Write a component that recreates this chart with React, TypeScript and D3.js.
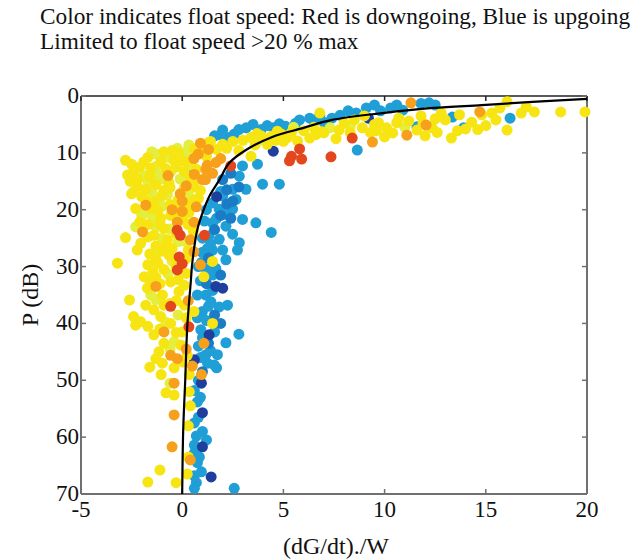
import React from "react";
import * as d3 from "d3";

type Pt = [number, number]; // [x = (dG/dt)./W, P (dB)]

const xTicks = [-5, 0, 5, 10, 15, 20];
const yTicks = [0, 10, 20, 30, 40, 50, 60, 70];

const titleLines = [
  "Color indicates float speed: Red is downgoing, Blue is upgoing",
  "Limited to float speed >20 % max",
];

const fitCurve: Pt[] = [
  [20, 0.5], [17.3, 1.05], [14.8, 1.6], [12.4, 2.1], [9.9, 3.0], [7.4, 4.2], [6.0, 5.6],
  [4.45, 7.2], [3.15, 9.5], [2.32, 11.8], [1.83, 14.8], [1.33, 17.7], [1.0, 20.6],
  [0.74, 23.6], [0.6, 26.5], [0.48, 30], [0.43, 32.4], [0.25, 40.6], [0.15, 50],
  [0.05, 58.7], [0, 70],
];

const lightBluePts: Pt[] = [
  [3.16, 5.6], [2.57, 6.7], [2.32, 7.3], [3.9, 5.9], [4.5, 5.6], [5.1, 5.3], [6.3, 3.9], [6.5, 4.4],
  [7.4, 3.9], [7.0, 4.6], [8.6, 3.0], [9.1, 2.1], [10.3, 2.1], [10.9, 2.5], [12.2, 1.2], [12.5, 1.6],
  [11.6, 5.4], [8.65, 9.5], [13.9, 5.6], [13.35, 3.7], [16.2, 3.9], [1.9, 6.8], [5.6, 4.8], [9.8, 2.6],
  [1.6, 7.0], [2.0, 6.0], [2.8, 5.9], [3.5, 5.0], [4.2, 5.2], [4.8, 4.9], [5.8, 4.2], [6.8, 3.4],
  [7.8, 3.4], [8.2, 2.6], [9.5, 1.6], [10.6, 1.6], [11.8, 1.3],
  [3.97, 15.5], [4.8, 15.5], [3.72, 12.0], [2.98, 12.3], [2.82, 14.1], [2.49, 16.4], [3.15, 16.4],
  [2.0, 17.6], [2.66, 18.2], [1.83, 19.9], [2.49, 19.9], [2.98, 21.7], [1.5, 22.3], [2.16, 22.9],
  [3.64, 22.3], [4.4, 24.0], [1.33, 24.6], [1.83, 25.2], [2.49, 24.3], [2.82, 25.8], [2.73, 27.1],
  [2.16, 28.8], [2.0, 27.1], [1.5, 27.1], [1.66, 30.3], [2.24, 36.8], [1.83, 37.1], [1.42, 36.2],
  [1.17, 35.0], [2.8, 41.9], [2.16, 43.4], [1.74, 45.5], [1.58, 47.3], [1.0, 37.9], [0.92, 41.1],
  [1.17, 45.5], [1.25, 47.0], [1.0, 27.5], [1.2, 30.5], [0.9, 32.5], [1.5, 34.2], [1.2, 39.5],
  [1.6, 41.5], [0.8, 44.0], [1.4, 26.0], [1.0, 25.0], [2.1, 20.8], [1.7, 21.5],
  [1.9, 16.8], [1.5, 18.8], [1.2, 20.0], [1.1, 22.0], [1.25, 26.8], [0.95, 29.3],
  [0.8, 30.0], [1.5, 31.5], [0.75, 35.0], [1.3, 37.0], [0.75, 39.0], [1.0, 42.5], [1.4, 44.8],
  [0.9, 46.0],
  [1.7, 47.8], [0.75, 53.8], [0.6, 57.5], [1.2, 60.5], [0.6, 61.4], [0.6, 62.8], [0.75, 64.5],
  [0.95, 66.1], [0.7, 68.0], [0.6, 69.0], [2.57, 69.0], [0.8, 50.0], [0.6, 51.8], [0.9, 53.0],
  [0.8, 56.5], [1.0, 59.0], [0.7, 59.8], [0.85, 63.5], [0.6, 66.8],
];

const midBluePts: Pt[] = [
  [2.0, 14.7], [2.4, 13.6], [2.8, 16.0], [2.2, 16.5], [2.5, 18.5], [2.2, 19.0], [1.9, 21.0],
  [2.4, 21.5], [1.6, 23.5], [1.3, 28.5], [1.9, 31.5], [1.2, 33.0], [1.6, 38.5], [1.9, 40.0],
  [1.3, 43.5], [1.0, 48.5],
];

const darkBluePts: Pt[] = [
  [4.5, 9.7], [9.2, 3.9], [1.66, 33.5], [2.0, 33.8], [1.33, 42.0], [0.95, 50.5], [1.0, 55.7],
  [1.0, 61.7], [1.43, 67.0], [0.45, 12.5], [1.7, 17.7], [0.6, 46.4],
];

const paleYellowPts: Pt[] = [
  [-0.24, 9.2], [0.33, 8.6], [-1.2, 13.9], [-0.57, 13.3], [-1.7, 15.0], [-0.73, 17.4], [-1.6, 20.7],
  [-1.55, 35.0], [-0.4, 43.2], [-2.4, 16.8], [-1.9, 14.0], [-0.1, 14.6], [-1.1, 18.0], [-2.0, 21.0],
  [-1.3, 23.0], [0.1, 25.5], [-0.9, 10.8], [-1.5, 9.8], [0.9, 10.0], [-2.3, 23.0], [-0.2, 38.5],
  [-0.6, 50.5], [5.5, 5.5], [8.3, 5.3], [3.7, 8.0], [-1.25, 27.5],
  [-1.3, 10.2], [0.2, 9.8], [-0.6, 10.9], [-1.3, 12.4], [0.4, 12.2], [-0.9, 14.6], [-1.5, 16.9],
  [0.3, 17.3], [-1.0, 19.4], [-2.0, 20.3], [-1.4, 21.7], [-0.6, 23.4], [-1.0, 25.0], [-0.2, 25.6],
  [-0.5, 29.0], [-0.7, 31.3], [-1.3, 35.8], [-0.8, 39.8], [-0.6, 44.5], [7.3, 5.6], [11.0, 5.5],
];

const yellowPts: Pt[] = [
  [1.3, 8.2], [1.7, 9.4], [2.0, 8.5], [2.5, 8.0], [3.0, 7.8], [3.4, 7.3], [3.9, 7.0], [4.4, 7.1],
  [4.9, 6.7], [5.4, 6.4], [6.0, 6.1], [6.9, 6.3], [7.75, 6.0], [8.9, 5.6], [10.1, 5.6], [10.6, 4.7],
  [11.6, 6.0], [12.35, 5.6], [13.3, 7.4], [13.0, 4.2], [9.7, 4.7], [10.7, 3.9], [6.8, 3.0], [7.0, 6.5],
  [8.0, 4.8], [9.3, 6.4], [5.0, 8.0], [6.3, 7.4], [4.2, 8.5], [3.4, 10.6], [12.8, 3.0], [11.8, 3.5],
  [13.7, 3.3], [14.3, 4.6], [14.8, 3.3], [15.5, 4.2], [15.7, 2.1], [16.05, 6.0], [16.05, 1.0],
  [16.75, 3.0], [17.0, 1.9], [17.4, 2.8], [18.7, 2.8], [19.9, 2.8], [8.5, 4.2], [11.2, 4.4],
  [12.0, 7.0], [10.0, 7.2], [7.6, 7.5], [5.7, 7.9], [2.8, 9.6], [14.0, 5.8], [15.0, 5.2], [9.0, 3.5],
  [2.2, 9.2], [3.6, 8.6], [4.6, 7.8], [5.2, 7.3], [6.6, 6.8], [8.3, 6.4], [9.6, 6.1], [10.4, 6.5],
  [11.9, 4.8], [12.6, 6.4], [13.6, 6.1], [14.6, 5.9], [15.3, 3.0], [12.5, 4.0], [9.5, 5.0], [6.5, 5.5],
  [4.7, 6.2], [3.7, 6.6],
  [-2.8, 11.3], [-2.7, 13.9], [-2.57, 15.0], [-1.55, 12.7], [-1.06, 11.6], [-0.4, 11.3], [0.25, 11.6],
  [0.1, 13.3], [-1.3, 15.6], [-0.65, 15.3], [0.5, 15.3], [-2.0, 17.7], [-1.4, 18.6], [-0.24, 19.2],
  [0.58, 18.3], [-1.06, 21.5], [-0.57, 21.0], [0.33, 20.5], [-2.05, 25.9], [-2.8, 24.9], [-1.4, 24.5],
  [-0.73, 25.3], [-0.5, 26.8], [1.4, 8.0], [-0.9, 9.8], [-0.2, 10.0], [0.6, 9.3], [-1.7, 10.8],
  [-2.1, 12.5], [-0.8, 12.8], [0.7, 12.9], [-2.2, 14.6], [-1.8, 16.4], [-0.9, 16.6], [0.1, 16.2],
  [0.9, 16.6], [-2.3, 19.8], [-1.2, 20.1], [-0.6, 19.1], [0.05, 21.8], [-1.7, 22.6], [-0.9, 23.3],
  [-0.3, 24.2], [0.55, 23.8], [-1.0, 27.3], [-1.6, 27.8], [0.2, 28.6],
  [-0.5, 9.6], [1.0, 9.0], [-1.9, 11.6], [0.0, 11.4], [1.2, 10.6], [-2.4, 13.2], [-0.3, 12.5],
  [-1.6, 14.2], [0.4, 14.3], [-2.5, 12.0], [-2.2, 16.0], [-0.6, 16.1], [-2.5, 17.2], [-1.0, 17.5],
  [0.6, 16.0], [-1.8, 18.4], [-0.2, 18.3], [0.3, 19.1], [-1.5, 19.8], [0.8, 18.0], [-2.1, 22.2],
  [-0.3, 21.4], [-1.1, 22.5], [0.3, 22.6], [-1.7, 24.8], [-1.3, 26.4], [0.3, 27.1], [-0.8, 26.0],
  [-1.3, 28.8], [-0.3, 28.7], [-1.2, 29.4], [-1.6, 32.6], [-0.2, 32.3], [-1.3, 31.9], [0.2, 31.2],
  [-0.3, 36.0], [-1.8, 36.8], [-0.9, 36.8], [-1.7, 40.5], [-0.3, 41.6], [-1.1, 41.0], [0.05, 46.8],
  [-1.3, 46.2],
  [-3.2, 29.4], [-2.22, 27.1], [-1.7, 29.7], [-1.45, 30.9], [-1.88, 31.8], [-2.6, 35.9], [-1.72, 33.8],
  [-2.4, 38.8], [-2.06, 39.7], [-2.3, 40.3], [-1.4, 37.6], [-1.06, 38.8], [-1.4, 42.0], [-1.15, 45.0],
  [-0.98, 47.0], [-0.65, 28.0], [-0.57, 32.7], [-0.16, 34.4], [-0.98, 35.0], [-0.57, 40.0],
  [-0.07, 43.8], [1.07, 31.8], [0.58, 37.9], [1.5, 29.1], [1.5, 40.0], [0.1, 33.3], [0.1, 36.8],
  [0.0, 41.5], [0.25, 45.6], [-0.9, 30.5], [-0.3, 30.0], [-1.1, 33.0], [-0.6, 36.5], [0.2, 39.0],
  [-0.9, 43.5], [-0.4, 47.8],
  [-1.6, 47.7], [-1.04, 49.0], [-0.8, 52.2], [-1.1, 65.8], [-1.7, 67.9], [-0.3, 68.0], [0.35, 49.0],
  [0.35, 52.0], [0.4, 54.5], [0.3, 58.0], [0.3, 63.5], [0.25, 66.5], [-0.4, 52.6],
];

const orangePts: Pt[] = [
  [-0.1, 17.2], [1.15, 14.7], [1.24, 12.2], [0.58, 11.0], [-0.24, 22.2], [0.58, 22.2], [-1.8, 19.2],
  [-1.96, 23.9], [0.4, 25.3], [-1.3, 33.5], [-0.9, 41.5], [-0.57, 45.6], [-0.24, 46.2], [0.58, 27.4],
  [0.9, 29.7], [1.07, 43.5], [-0.4, 50.5], [-0.4, 56.1], [-0.5, 61.7], [0.95, 49.0], [9.4, 8.1],
  [11.1, 6.9], [12.05, 5.1], [14.7, 2.8], [11.3, 1.2], [1.17, 12.9], [1.66, 11.7], [1.0, 14.7],
  [0.8, 10.2], [0.9, 8.3], [0.0, 20.3], [0.4, 64.0], [0.3, 36.0], [0.2, 44.5], [0.5, 47.5],
  [0.7, 19.5], [0.2, 15.8], [1.5, 13.6], [0.6, 13.8], [1.3, 9.4], [0.0, 18.5], [-0.5, 20.0],
  [1.9, 11.0], [-0.7, 14.0],
];

const redPts: Pt[] = [
  [5.3, 11.4], [5.8, 9.3], [5.4, 10.6], [5.9, 11.1], [7.35, 10.7], [8.4, 7.4], [-0.1, 24.5],
  [1.1, 24.5], [-0.57, 37.0], [-0.15, 28.3], [-0.24, 30.6], [0.33, 40.6], [-0.25, 23.6], [0.0, 29.5],
  [2.4, 12.3],
];

const groups: { pts: Pt[]; color: string }[] = [
  { pts: lightBluePts, color: "#1f9fd6" },
  { pts: midBluePts, color: "#1a7cc6" },
  { pts: darkBluePts, color: "#1e3f9e" },
  { pts: paleYellowPts, color: "#e3ee3e" },
  { pts: yellowPts, color: "#f6e512" },
  { pts: orangePts, color: "#f6a01c" },
  { pts: redPts, color: "#e4461e" },
];

const W = 639;
const H = 560;
const L = 81, R = 587, T = 96, B = 494;

export default function App() {
  const x = d3.scaleLinear().domain([-5, 20]).range([L, R]);
  const y = d3.scaleLinear().domain([0, 70]).range([T, B]);
  const line = d3
    .line<Pt>()
    .x((d) => x(d[0]))
    .y((d) => y(d[1]))
    .curve(d3.curveCatmullRom.alpha(0.5));
  const font = "'Liberation Serif', 'Times New Roman', serif";
  const axisColor = "#707070";

  return (
    <svg
      width={W}
      height={H}
      style={{ position: "absolute", left: 0, top: 0, background: "#fff" }}
      fontFamily={font}
    >
      <rect width={W} height={H} fill="#fff" />
      {titleLines.map((t, i) => (
        <text key={i} x={40} y={24 + i * 25} fontSize={23.3} fill="#111">
          {t}
        </text>
      ))}
      <line x1={L} x2={R} y1={T} y2={T} stroke="#222" strokeWidth={1.5} />
      <line x1={L} x2={R} y1={B} y2={B} stroke={axisColor} strokeWidth={2} />
      <line x1={L} x2={L} y1={T} y2={B} stroke={axisColor} strokeWidth={2} />
      <line x1={R} x2={R} y1={T} y2={B} stroke={axisColor} strokeWidth={2} />
      {xTicks.map((t) => (
        <g key={"x" + t}>
          <line x1={x(t)} x2={x(t)} y1={B} y2={B - 5} stroke={axisColor} strokeWidth={1.5} />
          <line x1={x(t)} x2={x(t)} y1={T} y2={T + 5} stroke="#222" strokeWidth={1.5} />
          <text x={x(t)} y={517} fontSize={23} textAnchor="middle" fill="#111">
            {t}
          </text>
        </g>
      ))}
      {yTicks.map((t) => (
        <g key={"y" + t}>
          <line x1={L} x2={L + 5} y1={y(t)} y2={y(t)} stroke={axisColor} strokeWidth={1.5} />
          <line x1={R} x2={R - 5} y1={y(t)} y2={y(t)} stroke={axisColor} strokeWidth={1.5} />
          <text x={79} y={y(t) + 7} fontSize={23} textAnchor="end" fill="#111">
            {t}
          </text>
        </g>
      ))}
      {groups.map((g, gi) => (
        <g key={gi} fill={g.color}>
          {g.pts.map((p, i) => (
            <circle key={i} cx={x(p[0])} cy={y(p[1])} r={5.5} />
          ))}
        </g>
      ))}
      <path d={line(fitCurve) || ""} fill="none" stroke="#000" strokeWidth={2.2} />
      <text
        transform={`translate(38,${(T + B) / 2}) rotate(-90)`}
        fontSize={24}
        textAnchor="middle"
        fill="#111"
      >
        P (dB)
      </text>
      <text x={336} y={554} fontSize={24} textAnchor="middle" fill="#111">
        (dG/dt)./W
      </text>
    </svg>
  );
}
